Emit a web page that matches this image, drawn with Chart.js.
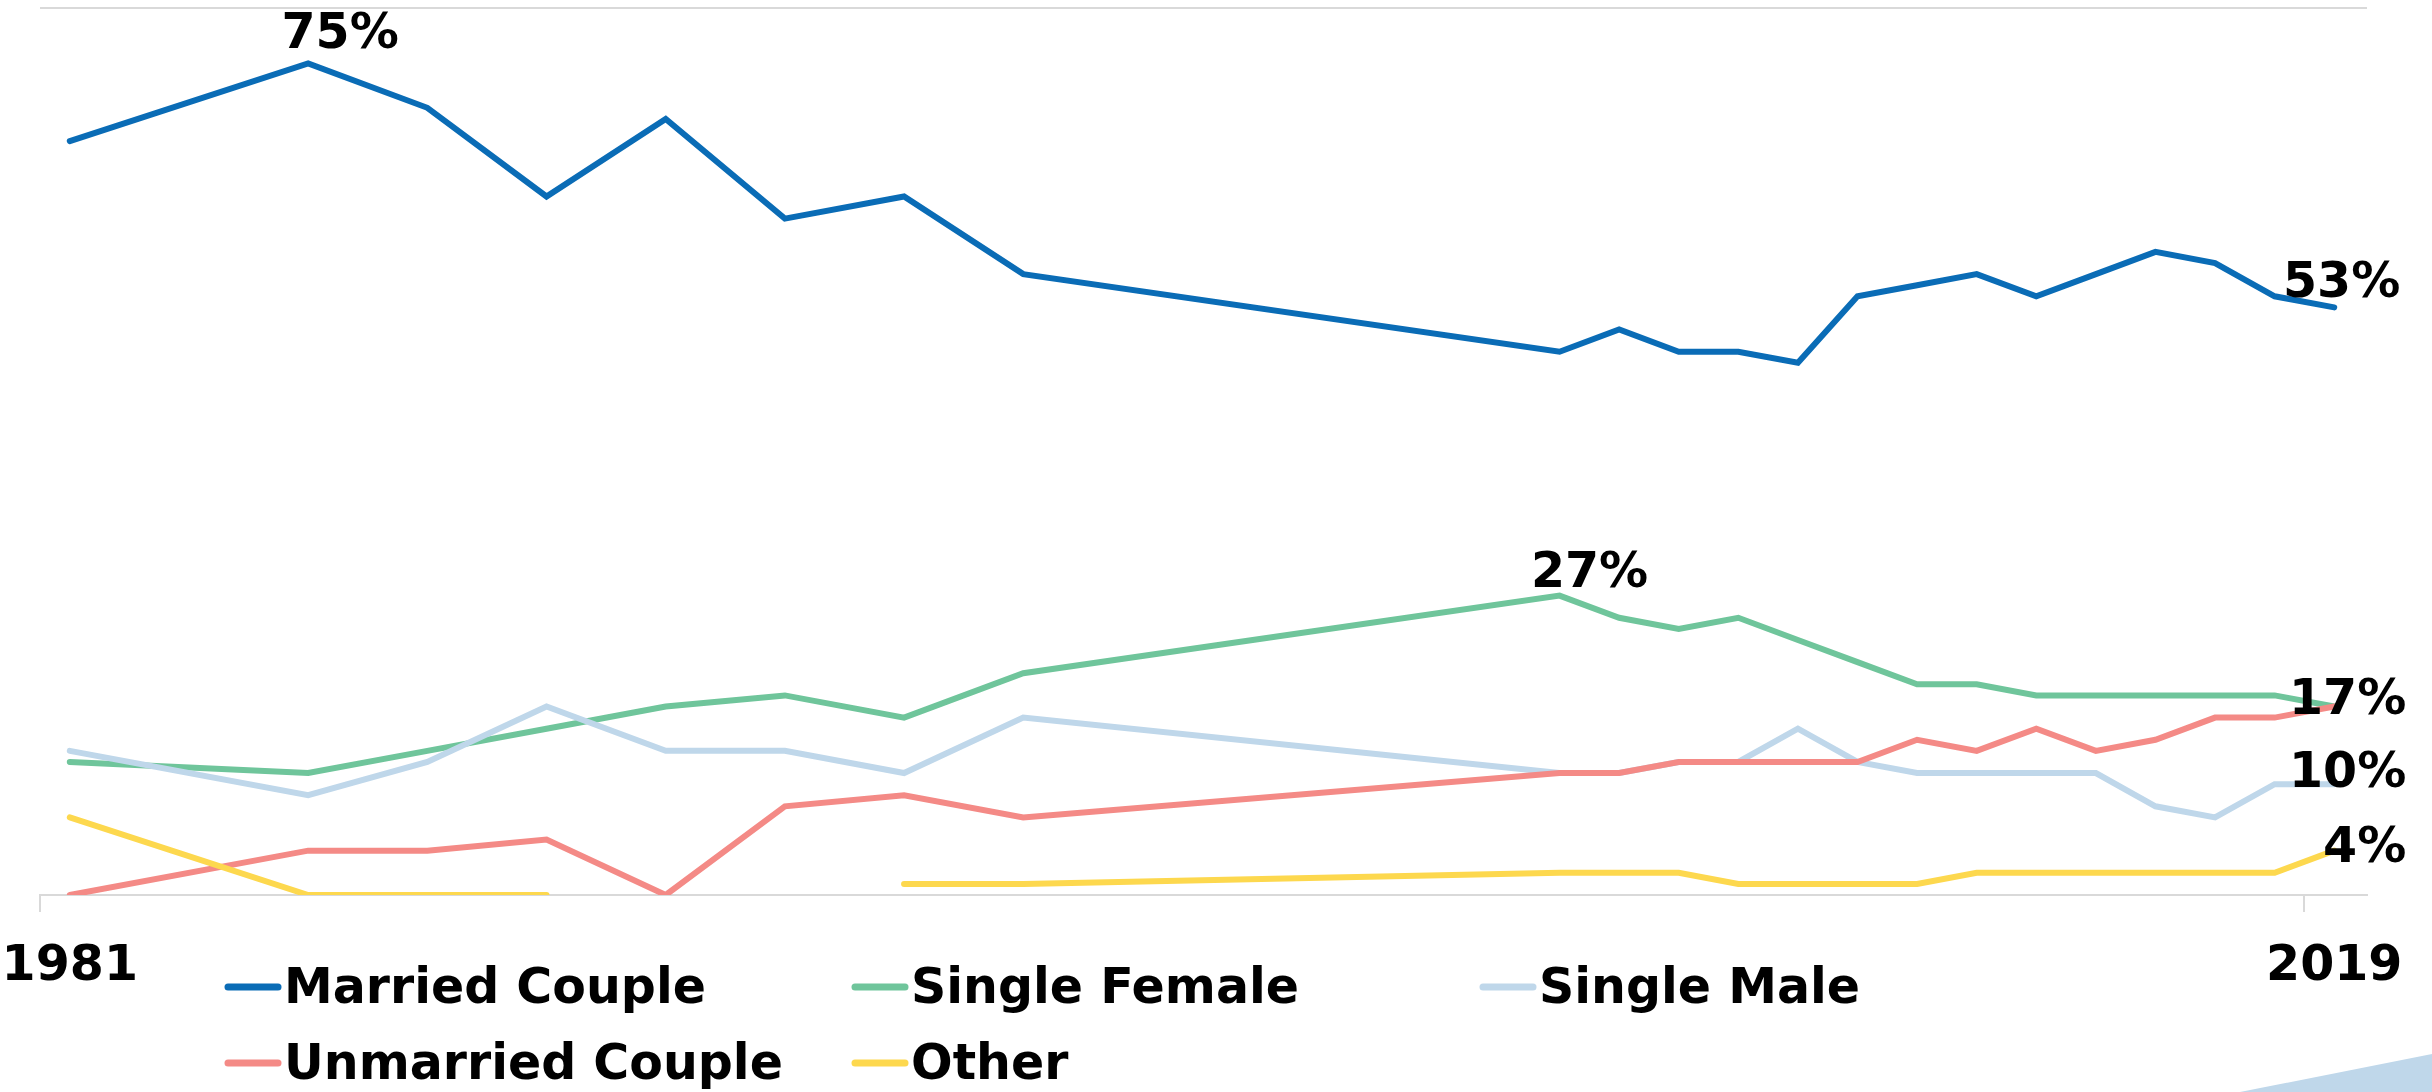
<!DOCTYPE html>
<html><head><meta charset="utf-8">
<script src="https://cdn.jsdelivr.net/npm/chart.js@4"></script>
<style>
html,body{margin:0;padding:0;background:#fff;overflow:hidden}
#wrap{position:relative;width:2432px;height:1092px}
#deco{position:absolute;left:0;top:0;width:2432px;height:1092px;background:#bfd7ea;clip-path:polygon(2240px 1092px,2432px 1054px,2432px 1092px);}
canvas{position:absolute;left:0;top:0}
</style></head><body>
<div id="wrap"><div id="deco"></div><canvas id="c" width="2432" height="1092"></canvas></div>
<script>
const years = [1981,1985,1987,1989,1991,1993,1995,1997,2006,2007,2008,2009,2010,2011,2012,2013,2014,2015,2016,2017,2018,2019];
const marriedCouple   = [68,75,71,63,70,61,63,56,49,51,49,49,48,54,55,56,54,56,58,57,54,53];
const singleFemale    = [12,11,13,15,17,18,16,20,27,25,24,25,23,21,19,19,18,18,18,18,18,17];
const singleMale      = [13,9,12,17,13,13,11,16,11,11,12,12,15,12,11,11,11,11,8,7,10,10];
const unmarriedCouple = [0,4,4,5,0,8,9,7,11,11,12,12,12,12,14,13,15,13,14,16,16,17];
const other           = [7,0,0,0,null,null,1,1,2,2,2,1,1,1,1,2,2,2,2,2,2,4];
const seriesNames = ['Married Couple','Single Female','Single Male','Unmarried Couple','Other'];
const seriesColors = ['#0a6cb6','#6fc59b','#bfd7ea','#f48a86','#fdd84e'];
const xTickLabels = ['1981','2019'];
const yGridValues = [0,80];
// callouts: series index, year
const callouts = [
  {s:0, year:1985}, {s:0, year:2019}, {s:1, year:2006},
  {s:1, year:2019}, {s:2, year:2019}, {s:4, year:2019}
];

const FONT = 'bold 49px "DejaVu Sans"';
const allSeries = [marriedCouple, singleFemale, singleMale, unmarriedCouple, other];

const datasets = allSeries.map((vals, i) => ({
  label: seriesNames[i],
  data: years.map((y, j) => ({x: y, y: vals[j]})),
  borderColor: seriesColors[i],
  backgroundColor: seriesColors[i],
  borderWidth: 6,
  pointRadius: 0,
  fill: false,
  tension: 0,
  spanGaps: false,
  borderCapStyle: 'round',
  borderJoinStyle: 'miter',
  order: 5 - i
}));

// positioning of callouts relative to their point (style only)
const calloutStyle = [
  {dx: 32, dy: -15, align: 'center'},
  {dx: 66, dy: -10, align: 'right'},
  {dx: 30, dy: -9, align: 'center'},
  {dx: 72, dy: 7, align: 'right'},
  {dx: 72, dy: 3, align: 'right'},
  {dx: 72, dy: 11, align: 'right'}
];

const calloutPlugin = {
  id: 'callouts',
  afterDatasetsDraw(chart) {
    const ctx = chart.ctx;
    const xs = chart.scales.x, ys = chart.scales.y;
    ctx.save();
    ctx.font = FONT;
    ctx.fillStyle = '#000';
    ctx.textBaseline = 'alphabetic';
    callouts.forEach((c, k) => {
      const idx = years.indexOf(c.year);
      const v = allSeries[c.s][idx];
      const st = calloutStyle[k];
      ctx.textAlign = st.align;
      ctx.fillText(v + '%', xs.getPixelForValue(c.year) + st.dx, ys.getPixelForValue(v) + st.dy);
    });
    ctx.restore();
  }
};

const legendPlugin = {
  id: 'gridLegend',
  afterDraw(chart) {
    const ctx = chart.ctx;
    const colX = [225, 852, 1480];
    const rowBase = [1003, 1079];
    ctx.save();
    ctx.font = FONT;
    ctx.textBaseline = 'alphabetic';
    ctx.textAlign = 'left';
    chart.data.datasets.forEach((ds, i) => {
      const col = i % 3, row = Math.floor(i / 3);
      const x = colX[col], yb = rowBase[row];
      ctx.strokeStyle = ds.borderColor;
      ctx.lineWidth = 7;
      ctx.lineCap = 'round';
      ctx.beginPath();
      ctx.moveTo(x + 3, yb - 16);
      ctx.lineTo(x + 53, yb - 16);
      ctx.stroke();
      ctx.fillStyle = '#000';
      ctx.fillText(ds.label, x + 59, yb);
    });
    ctx.restore();
  }
};

new Chart(document.getElementById('c'), {
  type: 'line',
  data: { datasets },
  options: {
    responsive: false,
    animation: false,
    layout: { padding: { left: 40, right: 65, top: 8, bottom: 0 } },
    plugins: { legend: { display: false }, tooltip: { enabled: false } },
    scales: {
      x: {
        type: 'linear',
        min: years[0] - 0.5,
        max: years[years.length - 1] + 0.55,
        afterBuildTicks: (s) => { s.ticks = [{value: years[0] - 0.5}, {value: years[years.length - 1] - 0.5}]; },
        afterFit: (s) => { s.height = 197; s.paddingLeft = 0; s.paddingRight = 0; },
        ticks: {
          autoSkip: false, maxRotation: 0, minRotation: 0,
          labelOffset: 29.8,
          padding: 26,
          color: '#000',
          font: { family: 'DejaVu Sans', weight: 'bold', size: 49 },
          callback: (v, i) => xTickLabels[i]
        },
        grid: { drawOnChartArea: false, tickLength: 17, color: '#d9d9d9', lineWidth: 2 },
        border: { display: true, color: '#d9d9d9', width: 2 }
      },
      y: {
        min: 0, max: 80,
        afterBuildTicks: (s) => { s.ticks = yGridValues.map(v => ({value: v})); },
        afterFit: (s) => { s.width = 0; s.paddingTop = 0; s.paddingBottom = 0; },
        ticks: { display: false },
        grid: { drawTicks: false, color: '#d9d9d9', lineWidth: 2 },
        border: { display: false }
      }
    }
  },
  plugins: [calloutPlugin, legendPlugin]
});
</script>
</body></html>
